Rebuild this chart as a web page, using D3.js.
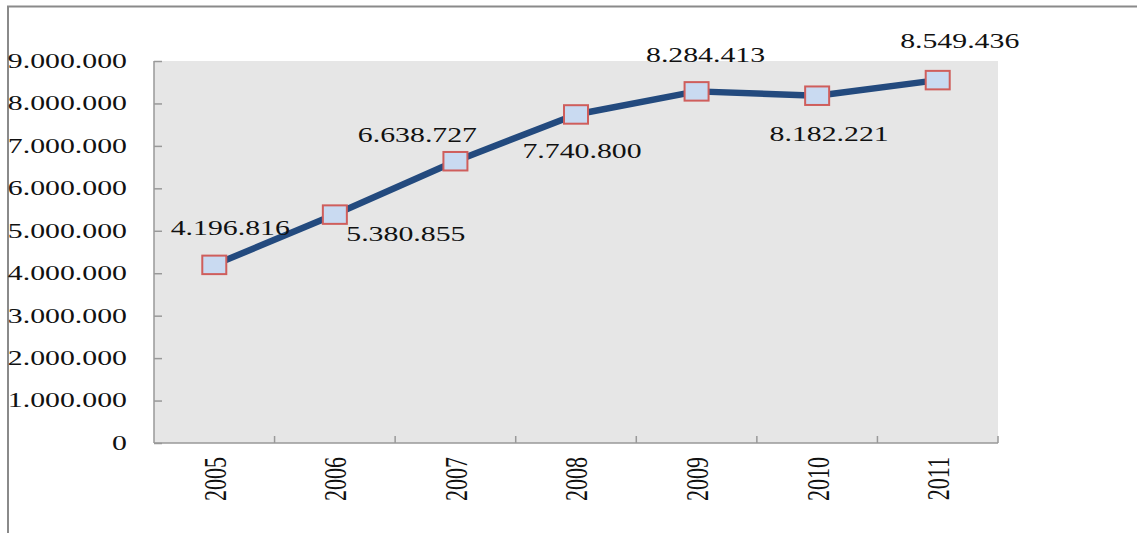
<!DOCTYPE html>
<html>
<head>
<meta charset="utf-8">
<script src="https://cdn.jsdelivr.net/npm/d3@7"></script>
<style>
  body { margin: 0; background: #fff; }
  text { font-family: "Liberation Serif", "Times New Roman", serif; fill: #111; }
</style>
</head>
<body>
<svg width="1137" height="533"></svg>
<script>
// data
var years  = ['2005', '2006', '2007', '2008', '2009', '2010', '2011'];
var values = [4196816, 5380855, 6638727, 7740800, 8284413, 8182221, 8549436];
var yTicks = [0, 1000000, 2000000, 3000000, 4000000, 5000000, 6000000, 7000000, 8000000, 9000000];

// where each value label sits relative to its point (layout only)
var labelDx = [16, 71, -38, 6, 9, 12, 22];
var labelDy = [-37, 19, -26, 37, -36, 38, -39];

var stretch = 1.42;   // text in the picture is wide
var fontSize = 21;

var svg = d3.select('svg');
var margin = { left: 154, top: 61, right: 139, bottom: 90 };
var width  = 1137 - margin.left - margin.right;
var height = 533 - margin.top - margin.bottom;

// outer frame: top and left edges only
svg.append('path')
  .attr('d', 'M8,533V6.5H1137')
  .style('fill', 'none')
  .style('stroke', '#8a8a8a')
  .style('stroke-width', 2);

var g = svg.append('g').attr('transform', 'translate(' + margin.left + ',' + margin.top + ')');

var x = d3.scaleBand().domain(years).range([0, width]);
var y = d3.scaleLinear().domain([0, 9000000]).range([height, 0]);

var fmt = function(v) {
  return d3.format(',')(v).replace(/,/g, '.');
};

g.append('rect')
  .attr('width', width)
  .attr('height', height)
  .style('fill', '#e6e6e6');

// y axis, ticks pointing inward
var yAxis = g.append('g')
  .call(d3.axisRight(y).tickValues(yTicks).tickSize(8).tickFormat(''));
yAxis.selectAll('line,path').style('stroke', '#999').style('stroke-width', 1.5);
yAxis.select('.domain').attr('d', 'M0,0V' + height);

g.selectAll('.ylab')
  .data(yTicks)
  .enter()
  .append('text')
  .attr('class', 'ylab')
  .attr('transform', d => 'translate(-27,' + y(d) + ') scale(' + stretch + ',1)')
  .attr('text-anchor', 'end')
  .attr('dominant-baseline', 'central')
  .style('font-size', fontSize + 'px')
  .text(d => fmt(d));

// x axis, ticks at category boundaries pointing up
var bounds = years.map(d => x(d)).concat([width]);
var xAxis = g.append('g').attr('transform', 'translate(0,' + height + ')');
xAxis.append('path')
  .attr('d', 'M0,0H' + width)
  .style('stroke', '#999')
  .style('stroke-width', 1.5);
xAxis.selectAll('line')
  .data(bounds.slice(1))
  .enter()
  .append('line')
  .attr('x1', d => d).attr('x2', d => d)
  .attr('y1', 0).attr('y2', -7)
  .style('stroke', '#999')
  .style('stroke-width', 1.5);

xAxis.selectAll('text')
  .data(years)
  .enter()
  .append('text')
  .attr('transform', d => 'translate(' + (x(d) + x.bandwidth() / 2 + 1) + ',14) scale(' + stretch + ',1) rotate(-90)')
  .attr('text-anchor', 'end')
  .attr('dominant-baseline', 'central')
  .style('font-size', (fontSize + 1) + 'px')
  .text(d => d);

var cx = (d, i) => x(years[i]) + x.bandwidth() / 2;

var line = d3.line()
  .x((d, i) => cx(d, i))
  .y(d => y(d));

g.append('path')
  .datum(values)
  .attr('d', line)
  .style('fill', 'none')
  .style('stroke', '#234a7e')
  .style('stroke-width', 6.5)
  .style('stroke-linejoin', 'round');

var mw = 24, mh = 18.5;
g.selectAll('.marker')
  .data(values)
  .enter()
  .append('rect')
  .attr('class', 'marker')
  .attr('x', (d, i) => cx(d, i) - mw / 2)
  .attr('y', d => y(d) - mh / 2)
  .attr('width', mw)
  .attr('height', mh)
  .style('fill', '#c9daf1')
  .style('stroke', '#cf5e5c')
  .style('stroke-width', 2);

g.selectAll('.vlab')
  .data(values)
  .enter()
  .append('text')
  .attr('class', 'vlab')
  .attr('transform', (d, i) => 'translate(' + (cx(d, i) + labelDx[i]) + ',' + (y(d) + labelDy[i]) + ') scale(' + stretch + ',1)')
  .attr('text-anchor', 'middle')
  .attr('dominant-baseline', 'central')
  .style('font-size', fontSize + 'px')
  .text(d => fmt(d));
</script>
</body>
</html>
